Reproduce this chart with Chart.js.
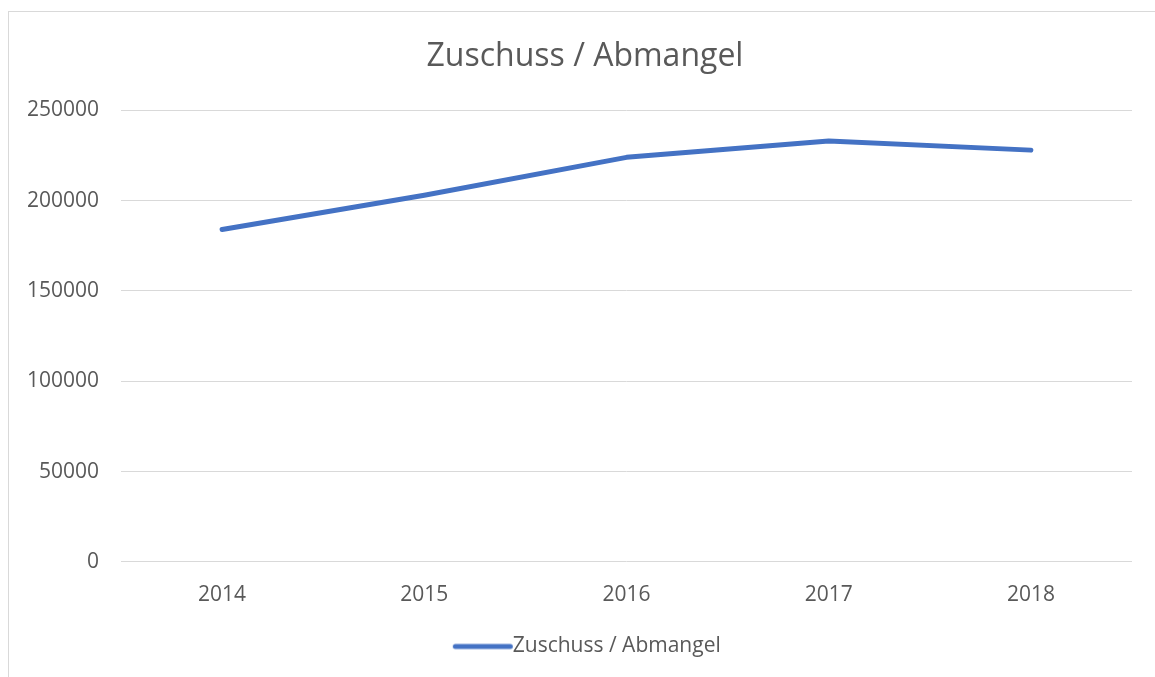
<!DOCTYPE html>
<html>
<head>
<meta charset="utf-8">
<script src="https://cdn.jsdelivr.net/npm/chart.js@4.4.1/dist/chart.umd.min.js"></script>
<style>
  html, body { margin: 0; padding: 0; background: #ffffff; overflow: hidden; }
  #wrap { position: relative; width: 1155px; height: 677px; }
  #frame { position: absolute; left: 8px; top: 11px; width: 1200px; height: 700px; border: 1px solid #d9d9d9; box-sizing: border-box; }
  #c { position: absolute; left: 0; top: 0; }
</style>
</head>
<body>
<div id="wrap">
  <div id="frame"></div>
  <canvas id="c" width="1155" height="677"></canvas>
</div>
<script>
const chartTitle = "Zuschuss / Abmangel";
const categories = ["2014", "2015", "2016", "2017", "2018"];
const seriesName = "Zuschuss / Abmangel";
const seriesValues = [184000, 203000, 224000, 233000, 228000];
const yTicks = [0, 50000, 100000, 150000, 200000, 250000];

const textColor = "#595959";
const gridColor = "#d9d9d9";
const lineColor = "#4472C4";
const fontFamily = "'Open Sans', sans-serif";

// legend swatch: a short rounded line
const swatch = document.createElement("canvas");
swatch.width = 80; swatch.height = 10;
(function () {
  const g = swatch.getContext("2d");
  g.strokeStyle = lineColor;
  g.lineWidth = 5;
  g.lineCap = "round";
  g.beginPath();
  g.moveTo(19.5, 5);
  g.lineTo(74.5, 5);
  g.stroke();
})();

new Chart(document.getElementById("c"), {
  type: "line",
  data: {
    labels: categories,
    datasets: [{
      label: seriesName,
      data: seriesValues,
      borderColor: lineColor,
      backgroundColor: lineColor,
      borderWidth: 5,
      borderCapStyle: "round",
      borderJoinStyle: "round",
      pointRadius: 0,
      pointHoverRadius: 0,
      tension: 0,
      fill: false
    }]
  },
  options: {
    responsive: false,
    animation: false,
    events: [],
    layout: { padding: { left: 20, right: 5, top: 10, bottom: 10 } },
    plugins: {
      title: {
        display: true,
        text: chartTitle,
        color: textColor,
        font: { family: fontFamily, size: 32, weight: "normal" },
        padding: { top: 28, bottom: 34 }
      },
      legend: {
        display: true,
        position: "bottom",
        labels: {
          color: textColor,
          font: { family: fontFamily, size: 21 },
          usePointStyle: true,
          pointStyle: swatch,
          pointStyleWidth: 53,
          boxHeight: 21,
          padding: 10
        }
      },
      tooltip: { enabled: false }
    },
    scales: {
      x: {
        offset: true,
        grid: { display: false, drawTicks: false },
        border: { display: false },
        ticks: {
          color: textColor,
          font: { family: fontFamily, size: 21 },
          padding: 21,
          maxRotation: 0
        },
        afterFit: (scale) => { scale.height = 64.2; }
      },
      y: {
        min: 0,
        max: 250000,
        afterBuildTicks: (scale) => { scale.ticks = yTicks.map(v => ({ value: v })); },
        grid: { color: gridColor, lineWidth: 1, drawTicks: false },
        border: { display: false },
        ticks: {
          color: textColor,
          font: { family: fontFamily, size: 21 },
          padding: 22,
          callback: (v) => String(v)
        },
        afterFit: (scale) => { scale.width = 101; }
      },
      yRight: {
        position: "right",
        min: 0,
        max: 250000,
        grid: { display: false, drawTicks: false },
        border: { display: false },
        ticks: { display: false },
        afterFit: (scale) => { scale.width = 18; }
      }
    }
  }
});
</script>
</body>
</html>
